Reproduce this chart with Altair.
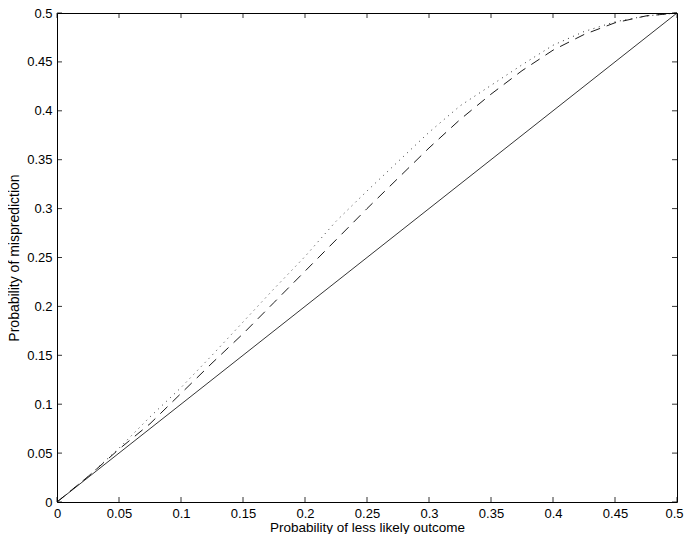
import altair as alt
import pandas as pd

# x values (probability of less likely outcome)
p = [0, 0.025, 0.05, 0.075, 0.1, 0.125, 0.15, 0.175, 0.2, 0.225, 0.25,
     0.275, 0.3, 0.325, 0.35, 0.375, 0.4, 0.425, 0.45, 0.475, 0.5]
# dashed curve
dashed = [0, 0.026, 0.054, 0.080, 0.111, 0.142, 0.172, 0.204, 0.236, 0.268, 0.300,
          0.331, 0.362, 0.391, 0.417, 0.441, 0.462, 0.478, 0.490, 0.497, 0.5]
# dotted curve
dotted = [0, 0.026, 0.055, 0.087, 0.117, 0.150, 0.184, 0.218, 0.251, 0.287, 0.318,
          0.348, 0.378, 0.405, 0.426, 0.447, 0.467, 0.481, 0.491, 0.497, 0.5]
# solid diagonal
diag_p = [0, 0.5]
diag_v = [0, 0.5]

x_ticks = [0, 0.05, 0.1, 0.15, 0.2, 0.25, 0.3, 0.35, 0.4, 0.45, 0.5]
y_ticks = [0, 0.05, 0.1, 0.15, 0.2, 0.25, 0.3, 0.35, 0.4, 0.45, 0.5]

W, H = 620, 489
TICK = 5

df_dash = pd.DataFrame({"p": p, "v": dashed})
df_dot = pd.DataFrame({"p": p, "v": dotted})
df_diag = pd.DataFrame({"p": diag_p, "v": diag_v})
df_xt = pd.DataFrame({"p": x_ticks})
df_yt = pd.DataFrame({"v": y_ticks})

xs = alt.Scale(domain=[0, 0.5], nice=False, zero=False)
ys = alt.Scale(domain=[0, 0.5], nice=False, zero=False)

font = "Liberation Sans"

x_axis = alt.Axis(values=x_ticks, format="~g", grid=False, ticks=False, domain=False,
                  labelPadding=5, labelFlush=False, labelOverlap=False,
                  labelOffset={"condition": {"test": "datum.value >= 0.5", "value": -3}, "value": 0},
                  title="Probability of less likely outcome",
                  titleX=W / 2, titleY=29, titleBaseline="alphabetic", titleAlign="center",
                  titleFontSize=13.5)
y_axis = alt.Axis(values=y_ticks, format="~g", grid=False, ticks=False, domain=False,
                  labelPadding=5, labelFlush=False, labelOverlap=False,
                  title="Probability of misprediction",
                  titleX=-39, titleY=H / 2, titleAngle=270, titleBaseline="alphabetic",
                  titleAlign="center", titleFontSize=14)

X = alt.X("p:Q", scale=xs, axis=x_axis)
Y = alt.Y("v:Q", scale=ys, axis=y_axis)

diag = alt.Chart(df_diag).mark_line(color="black", strokeWidth=0.8).encode(x=X, y=Y)
dash = alt.Chart(df_dash).mark_line(color="black", strokeWidth=0.9, strokeDash=[10, 7]).encode(x=X, y=Y)
dot = alt.Chart(df_dot).mark_line(color="black", strokeWidth=0.8, strokeDash=[1, 4.5]).encode(x=X, y=Y)

xt_bottom = alt.Chart(df_xt).mark_rule(color="black", strokeWidth=0.8).encode(
    x=X, y=alt.value(H), y2=alt.value(H - TICK))
xt_top = alt.Chart(df_xt).mark_rule(color="black", strokeWidth=0.8).encode(
    x=X, y=alt.value(0), y2=alt.value(TICK))
yt_left = alt.Chart(df_yt).mark_rule(color="black", strokeWidth=0.8).encode(
    y=Y, x=alt.value(0), x2=alt.value(TICK))
yt_right = alt.Chart(df_yt).mark_rule(color="black", strokeWidth=0.8).encode(
    y=Y, x=alt.value(W), x2=alt.value(W - TICK))

chart = alt.layer(diag, dash, dot, xt_bottom, xt_top, yt_left, yt_right).properties(
    width=W, height=H,
    autosize=alt.AutoSizeParams(type="none"),
    padding={"left": 49, "top": 5, "right": 7, "bottom": 32},
    background="white",
).configure_view(
    stroke="black", strokeWidth=1
).configure_axis(
    labelFont=font, titleFont=font, labelFontSize=13,
    labelColor="black", titleColor="black", titleFontWeight="normal"
)

chart.save("out.html", embed_options={"renderer": "svg", "actions": False})
